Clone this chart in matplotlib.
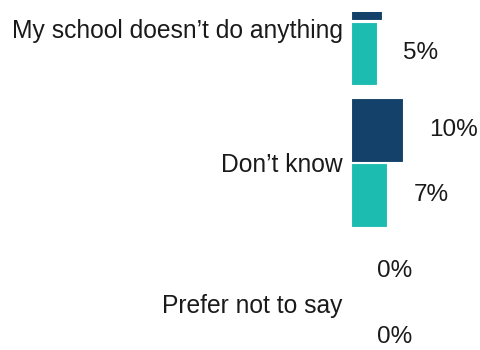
import matplotlib
matplotlib.use("Agg")
import matplotlib.pyplot as plt
import numpy as np

plt.rcParams['font.family'] = ['Liberation Sans', 'DejaVu Sans']

categories = ["My school doesn’t do anything", "Don’t know", "Prefer not to say"]
dark_vals = [6, 10, 0]
teal_vals = [5, 7, 0]
# vertical nudge of each category label, in points
label_nudge = [-7.3, -1.5, -1.5]

dark = '#134169'
teal = '#1CBCB0'
txt = '#1a1a1a'

fig = plt.figure(figsize=(4.81, 3.5), dpi=100)
# plot area starts a little below the top edge, so the first bar gets cut
ax = fig.add_axes([351 / 481, 0, 130 / 481, 338 / 350])
ylo, yhi = 2.325, -0.063

y = np.arange(len(categories))
h = 0.45
off = 0.23
ax.barh(y - off, dark_vals, height=h, color=dark, edgecolor='white', linewidth=0.8)
ax.barh(y + off, teal_vals, height=h, color=teal, edgecolor='white', linewidth=0.8)

# value labels to the right of each bar (only where the bar centre is in view)
for vals, shift in ((dark_vals, -off), (teal_vals, off)):
    for yy, v in zip(y, vals):
        if yy + shift < yhi:
            continue
        ax.annotate(f"{v}%", (v, yy + shift), xytext=(19, 0),
                    textcoords='offset points', va='center', ha='left',
                    fontsize=17.5, color=txt, annotation_clip=False)

# category names left of the bars
for yy, name, dy in zip(y, categories, label_nudge):
    ax.annotate(name, (0, yy), xytext=(-5.8, dy), textcoords='offset points',
                va='center', ha='right', fontsize=17.7, color=txt,
                annotation_clip=False)

ax.set_xlim(0, 25)
ax.set_ylim(ylo, yhi)
ax.set_yticks([])
ax.set_xticks([])
for s in ax.spines.values():
    s.set_visible(False)

fig.savefig('out.png', dpi=100)
